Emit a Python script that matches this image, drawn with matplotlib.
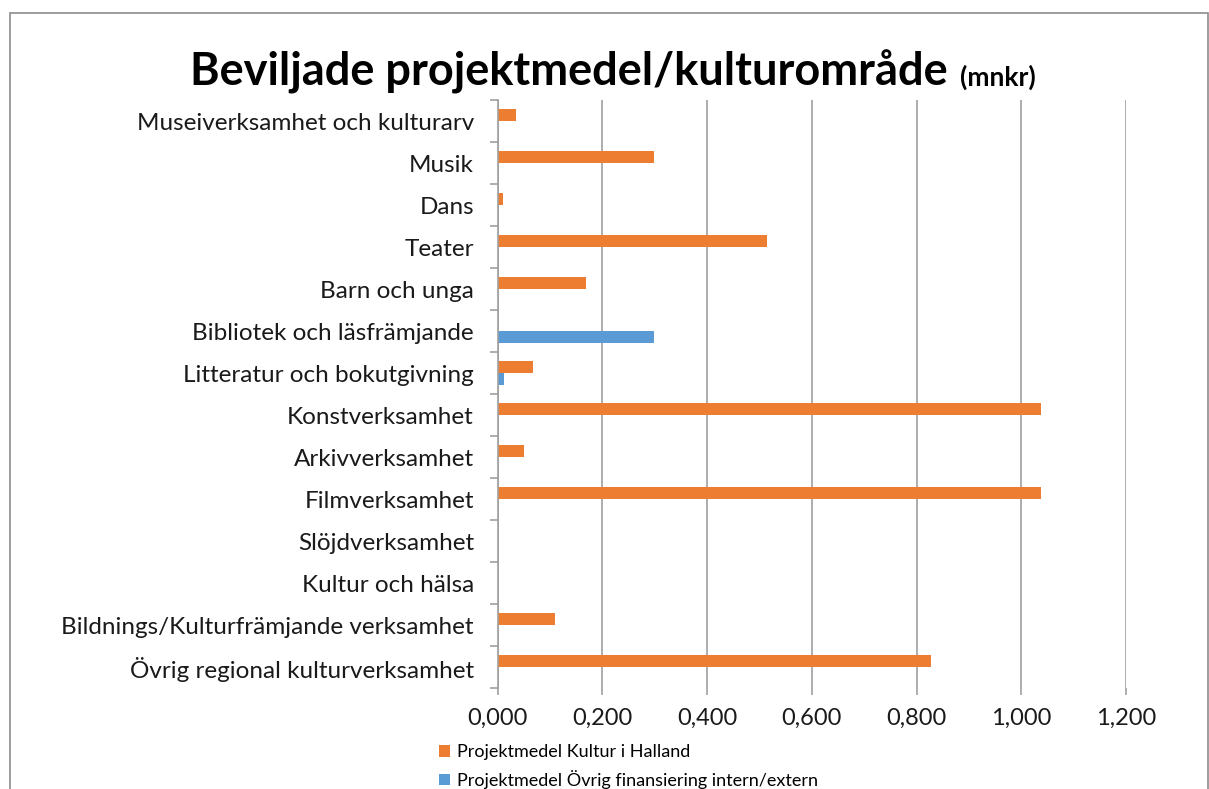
import numpy as np
import matplotlib
matplotlib.use('Agg')
import matplotlib.pyplot as plt
from matplotlib.patches import Rectangle
from matplotlib.ticker import FixedLocator, FuncFormatter

plt.rcParams['font.family'] = ['Lato', 'DejaVu Sans']

categories = ["Museiverksamhet och kulturarv", "Musik", "Dans", "Teater", "Barn och unga",
              "Bibliotek och läsfrämjande", "Litteratur och bokutgivning", "Konstverksamhet",
              "Arkivverksamhet", "Filmverksamhet", "Slöjdverksamhet", "Kultur och hälsa",
              "Bildnings/Kulturfrämjande verksamhet", "Övrig regional kulturverksamhet"]
kultur_i_halland = [0.035, 0.298, 0.011, 0.515, 0.169, 0.0, 0.068, 1.037, 0.050, 1.038, 0.0, 0.0, 0.110, 0.827]
ovrig_finansiering = [0.0, 0.0, 0.0, 0.0, 0.0, 0.299, 0.012, 0.0, 0.0, 0.0, 0.0, 0.0, 0.0, 0.0]
series_names = ["Projektmedel Kultur i Halland", "Projektmedel Övrig finansiering intern/extern"]
xticks = [0.0, 0.2, 0.4, 0.6, 0.8, 1.0, 1.2]

W, H = 1209, 789
fig = plt.figure(figsize=(W / 100, H / 100), dpi=100)
ax = fig.add_axes([497.5 / W, 1 - 688 / H, (1126 - 497.5) / W, 588 / H])

orange = '#ED7D31'
blue = '#5B9BD5'
grey = '#A0A0A0'

y = np.arange(len(categories))
h = 0.2857
b1 = ax.barh(y - h / 2, kultur_i_halland, h, color=orange, label=series_names[0])
b2 = ax.barh(y + h / 2, ovrig_finansiering, h, color=blue, label=series_names[1])

ax.set_ylim(len(categories) - 0.5, -0.5)
ax.set_xlim(0, 1.2)

ax.set_yticks(y)
ax.set_yticklabels(categories, fontsize=17.5, color='#1a1a1a')
ax.yaxis.set_minor_locator(FixedLocator(np.arange(-0.5, len(categories), 1)))
ax.tick_params(axis='y', which='major', length=0, pad=17)
ax.tick_params(axis='y', which='minor', length=6, color=grey, width=1.2)

ax.set_xticks(xticks)
ax.xaxis.set_major_formatter(FuncFormatter(lambda v, p: f"{v:.3f}".replace('.', ',')))
ax.tick_params(axis='x', which='major', length=5, color=grey, width=1.2, labelsize=17,
               labelcolor='#1a1a1a', pad=9)

ax.grid(axis='x', color=grey, linewidth=1.2)
ax.set_axisbelow(True)
for s in ['top', 'right']:
    ax.spines[s].set_visible(False)
ax.spines['left'].set_color(grey)
ax.spines['left'].set_linewidth(1.2)
ax.spines['bottom'].set_visible(False)

# title in two parts
t1 = fig.text(190 / W, 1 - 86 / H, "Beviljade projektmedel/kulturområde", fontsize=32.5,
              fontweight='bold', ha='left', va='baseline')
fig.canvas.draw()
bb = t1.get_window_extent()
fig.text((bb.x1 + 12) / W, 1 - 86 / H, "(mnkr)", fontsize=19, fontweight='bold',
         ha='left', va='baseline')

fig.legend(handles=[b1, b2], loc='upper left', bbox_to_anchor=(432 / W, 1 - 737 / H),
           frameon=False, fontsize=13, handlelength=0.6, handleheight=0.6,
           handletextpad=0.4, labelspacing=0.55, borderaxespad=0)

fig.patches.append(Rectangle((10 / W, -0.05), 1198 / W, 1.05 - 13 / H, transform=fig.transFigure,
                             fill=False, edgecolor='#8c8c8c', linewidth=1.2))

fig.savefig('out.png', dpi=100)
